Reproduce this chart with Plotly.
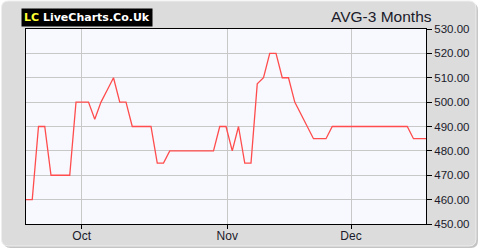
import plotly.graph_objects as go

# ---- data ----
point_index = list(range(65))
avg_values = [460, 460, 490, 490, 470, 470, 470, 470, 500, 500,
              500, 493, 500, 505, 510, 500, 500, 490, 490, 490,
              490, 475, 475, 480, 480, 480, 480, 480, 480, 480,
              480, 490, 490, 480, 490, 475, 475, 507.5, 510, 520,
              520, 510, 510, 500, 495, 490, 485, 485, 485, 490,
              490, 490, 490, 490, 490, 490, 490, 490, 490, 490,
              490, 490, 485, 485, 485]
month_tick_pos = [8.9, 32.2, 52.0]
month_tick_labels = ["Oct", "Nov", "Dec"]
y_ticks = [450, 460, 470, 480, 490, 500, 510, 520, 530]
y_tick_labels = ["%.2f" % v for v in y_ticks]

W, H = 480, 250
L, R, T, B = 25.5, 426, 29, 224


def px(x):
    return (x - L) / (R - L)


def py(y):
    return (B - y) / (B - T)


def rounded(x0, y0, x1, y1, r):
    X0, X1 = px(x0), px(x1)
    Y0, Y1 = py(y0), py(y1)
    rx = r / (R - L)
    ry = r / (B - T)
    return (f"M{X0+rx},{Y0} L{X1-rx},{Y0} Q{X1},{Y0} {X1},{Y0-ry} "
            f"L{X1},{Y1+ry} Q{X1},{Y1} {X1-rx},{Y1} L{X0+rx},{Y1} "
            f"Q{X0},{Y1} {X0},{Y1+ry} L{X0},{Y0-ry} Q{X0},{Y0} {X0+rx},{Y0} Z")


fig = go.Figure()
fig.add_trace(go.Scatter(x=point_index, y=avg_values, mode="lines",
                         line=dict(color="#ff4d4d", width=1.3),
                         hoverinfo="skip"))

shapes = [
    dict(type="path", xref="paper", yref="paper", layer="below",
         path=rounded(3, 3, 478, 248, 7), fillcolor="#c4c4c4", line=dict(width=0)),
    dict(type="path", xref="paper", yref="paper", layer="below",
         path=rounded(1, 1, 476, 246, 7), fillcolor="#dcdcdc",
         line=dict(color="#eeeeee", width=1)),
    dict(type="rect", xref="x domain", yref="y domain", layer="below",
         x0=0, x1=1, y0=0, y1=1, fillcolor="#f8f9ff", line=dict(width=0)),
]

annotations = [
    dict(xref="paper", yref="paper", x=px(20), y=py(8), xanchor="left", yanchor="top",
         text="<b><span style='color:#ffff33'>LC</span> LiveCharts.Co.Uk</b>",
         showarrow=False, bgcolor="#000000", borderpad=2,
         font=dict(family="DejaVu Sans", size=11, color="#ffffff")),
    dict(xref="paper", yref="paper", x=px(434), y=py(16), xanchor="right", yanchor="middle",
         text="AVG-3 Months", showarrow=False,
         font=dict(family="Liberation Sans", size=15.5, color="#1a1a2a")),
]

fig.update_layout(
    width=W, height=H,
    margin=dict(l=L, r=W - R, t=T, b=H - B, pad=0, autoexpand=False),
    paper_bgcolor="#ffffff",
    plot_bgcolor="rgba(0,0,0,0)",
    showlegend=False,
    shapes=shapes,
    annotations=annotations,
    font=dict(family="Liberation Sans", size=12, color="#1a1a2a"),
    xaxis=dict(range=[0, 64], tickmode="array", tickvals=month_tick_pos,
               ticktext=month_tick_labels, showgrid=True, gridcolor="#c8c8c8",
               gridwidth=1, zeroline=False, showline=True, linecolor="#000000",
               linewidth=1, mirror=True, ticks="outside", ticklen=4,
               tickcolor="#000000", automargin=False, ticklabelstandoff=-3,
               tickfont=dict(size=12, color="#1a1a2a")),
    yaxis=dict(range=[450, 530], side="right", tickmode="array", tickvals=y_ticks,
               ticktext=y_tick_labels, showgrid=True, gridcolor="#c8c8c8",
               gridwidth=1, zeroline=False, showline=True, linecolor="#000000",
               linewidth=1, mirror=True, ticks="outside", ticklen=5,
               tickcolor="#000000", automargin=False,
               tickfont=dict(size=11.5, color="#1a1a2a")),
)

fig.write_html("out.html", config={"displayModeBar": False})
